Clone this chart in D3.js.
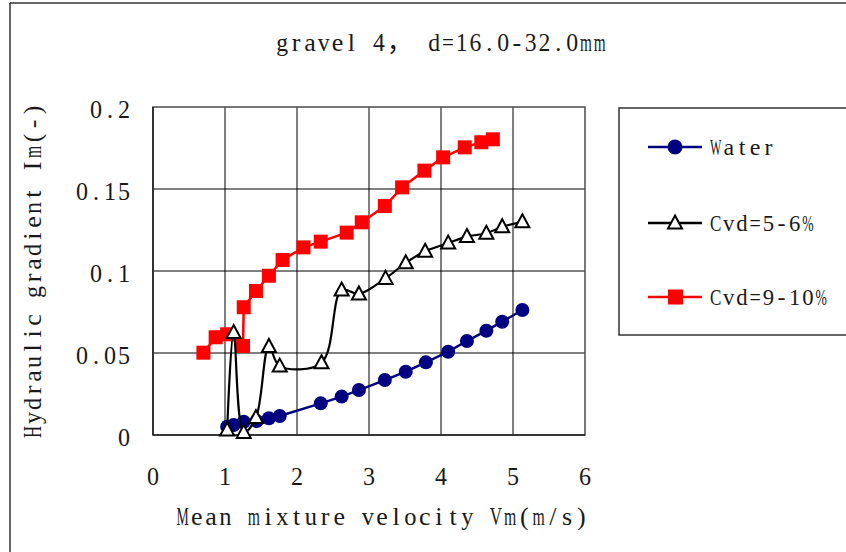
<!DOCTYPE html>
<html><head><meta charset="utf-8">
<script src="https://cdn.jsdelivr.net/npm/d3@7"></script>
<style>
html,body{margin:0;padding:0;background:#fff;}
text{font-family:"Liberation Serif","Noto Sans CJK SC",serif;fill:#1a1a1a;}
</style></head>
<body><svg id="c" width="846" height="552"></svg>
<script>
const titleText = "gravel 4， d=16.0-32.0mm";
const xTitle = "Mean mixture velocity Vm(m/s)";
const yTitle = "Hydraulic gradient Im(-)";
const xTicks = [0,1,2,3,4,5,6];
const yTicks = [0,0.05,0.1,0.15,0.2];
const yTickLabels = ["0","0.05","0.1","0.15","0.2"];
const seriesNames = ["Water","Cvd=5-6%","Cvd=9-10%"];

const waterX = [1.03,1.12,1.26,1.44,1.61,1.76,2.33,2.62,2.86,3.22,3.51,3.79,4.10,4.36,4.63,4.85,5.13];
const waterY = [0.0051,0.0061,0.0081,0.0085,0.0102,0.0116,0.0193,0.0234,0.0274,0.0335,0.0386,0.0443,0.0508,0.0573,0.0636,0.0691,0.0762];

const cvd56X = [1.03,1.12,1.26,1.43,1.61,1.76,2.34,2.62,2.86,3.23,3.51,3.78,4.10,4.36,4.63,4.85,5.13];
const cvd56Y = [0.003,0.0625,0.0016,0.0106,0.054,0.042,0.044,0.0884,0.086,0.0955,0.105,0.112,0.117,0.121,0.123,0.127,0.130];

const cvd910X = [0.70,0.87,1.03,1.25,1.26,1.43,1.61,1.80,2.09,2.33,2.69,2.90,3.22,3.46,3.77,4.03,4.33,4.56,4.72];
const cvd910Y = [0.0502,0.0596,0.0614,0.0543,0.0779,0.0878,0.0971,0.1067,0.1144,0.1179,0.1234,0.1297,0.1396,0.151,0.1612,0.1693,0.1754,0.1785,0.1803];

const svg = d3.select("#c");
const L=153, R=585, T=107, B=435;
const x = d3.scaleLinear().domain([0,6]).range([L,R]);
const y = d3.scaleLinear().domain([0,0.2]).range([B,T]);

// monospace-cell text with serif glyphs (SimSun-like look); wide glyphs condensed
function monoText(parent, str, px, py, anchor, cell, size){
  const chars = Array.from(str);
  const units = chars.map(c => c.charCodeAt(0) > 0x2E80 ? 2 : 1);
  const total = d3.sum(units)*cell;
  let pos = anchor==="middle" ? px - total/2 : anchor==="end" ? px - total : px;
  const grp = parent.append("g");
  chars.forEach((c,i)=>{
    const w = units[i]*cell;
    if(c !== " "){
      const t = grp.append("text").style("font-size", size+"px").text(c);
      const nat = t.node().getComputedTextLength();
      const lim = w*0.86;
      if(units[i]===2){
        t.attr("x", pos + 1).attr("y", py);
      } else if(nat > lim){
        const s = lim/nat;
        t.attr("transform", `translate(${pos + (w-lim)/2},${py}) scale(${s},1)`);
      } else {
        t.attr("x", pos + (w-nat)/2).attr("y", py);
      }
    }
    pos += w;
  });
  return grp;
}

// outer frame
svg.append("line").attr("x1",10).attr("x2",846).attr("y1",3).attr("y2",3).attr("stroke","#333").attr("stroke-width",1.5);
svg.append("line").attr("x1",10).attr("x2",10).attr("y1",3).attr("y2",552).attr("stroke","#333").attr("stroke-width",1.5);

// title
monoText(svg, titleText, 441, 51, "middle", 13.8, 26);

// grid
const g = svg.append("g");
g.selectAll("line.vx").data(xTicks.slice(1,-1)).join("line")
  .attr("x1",d=>x(d)).attr("x2",d=>x(d)).attr("y1",T).attr("y2",B).attr("stroke","#000").attr("stroke-width",1);
g.selectAll("line.hy").data(yTicks.slice(1,-1)).join("line")
  .attr("x1",L).attr("x2",R).attr("y1",d=>y(d)).attr("y2",d=>y(d)).attr("stroke","#000").attr("stroke-width",1);
g.append("rect").attr("x",L).attr("y",T).attr("width",R-L).attr("height",B-T).attr("fill","none").attr("stroke","#555").attr("stroke-width",1.6);
g.append("line").attr("x1",L).attr("x2",L).attr("y1",T).attr("y2",B).attr("stroke","#222").attr("stroke-width",1.6);
g.append("line").attr("x1",L).attr("x2",R).attr("y1",B).attr("y2",B).attr("stroke","#222").attr("stroke-width",1.6);

// tick labels
xTicks.forEach(d=>monoText(svg, String(d), x(d), 485, "middle", 14, 26));
yTicks.forEach((d,i)=>monoText(svg, yTickLabels[i], 131, y(d)+10.5, "end", 14, 26));

// axis titles
monoText(svg, xTitle, 382, 525, "middle", 14.24, 26);
const yg = svg.append("g").attr("transform","translate(41,271) rotate(-90)");
monoText(yg, yTitle, 0, 0, "middle", 14, 26);

const lineLin = d3.line().x(d=>x(d[0])).y(d=>y(d[1]));
const lineSmooth = d3.line().x(d=>x(d[0])).y(d=>y(d[1])).curve(d3.curveCatmullRom.alpha(0.5));

const water = waterX.map((v,i)=>[v,waterY[i]]);
const c56 = cvd56X.map((v,i)=>[v,cvd56Y[i]]);
const c910 = cvd910X.map((v,i)=>[v,cvd910Y[i]]);

const blue="#000080", red="#ff0000";
const triPath = "M0,-7.5L7,5.5L-7,5.5Z";

// water
svg.append("path").attr("d",lineLin(water)).attr("fill","none").attr("stroke",blue).attr("stroke-width",2.5);
svg.selectAll("circle.w").data(water).join("circle").attr("cx",d=>x(d[0])).attr("cy",d=>y(d[1])).attr("r",7).attr("fill",blue);

// red
svg.append("path").attr("d",lineLin(c910)).attr("fill","none").attr("stroke",red).attr("stroke-width",2.5);
svg.selectAll("rect.r").data(c910).join("rect").attr("x",d=>x(d[0])-7).attr("y",d=>y(d[1])-7).attr("width",14).attr("height",14).attr("fill",red);

// black
svg.append("path").attr("d",lineSmooth(c56)).attr("fill","none").attr("stroke","#000").attr("stroke-width",2.2);
svg.selectAll("path.t").data(c56).join("path").attr("d",triPath)
  .attr("transform",d=>`translate(${x(d[0])},${y(d[1])})`).attr("fill","#fff").attr("stroke","#000").attr("stroke-width",2);

// legend
const lg = svg.append("g");
lg.append("rect").attr("x",619).attr("y",108).attr("width",240).attr("height",227).attr("fill","#fff").attr("stroke","#333").attr("stroke-width",1.5);
const ly = [147,223,297];
const lcol = [blue,"#000",red];
ly.forEach((yy,i)=>{
  lg.append("line").attr("x1",648).attr("x2",702).attr("y1",yy).attr("y2",yy).attr("stroke",lcol[i]).attr("stroke-width",2.5);
  if(i===0) lg.append("circle").attr("cx",675).attr("cy",yy).attr("r",7.5).attr("fill",blue);
  if(i===1) lg.append("path").attr("d",triPath).attr("transform",`translate(675,${yy})`).attr("fill","#fff").attr("stroke","#000").attr("stroke-width",2);
  if(i===2) lg.append("rect").attr("x",668).attr("y",yy-7.5).attr("width",15).attr("height",15).attr("fill",red);
  monoText(lg, seriesNames[i], 709, yy+8, "start", 13.2, 24);
});
</script></body></html>
